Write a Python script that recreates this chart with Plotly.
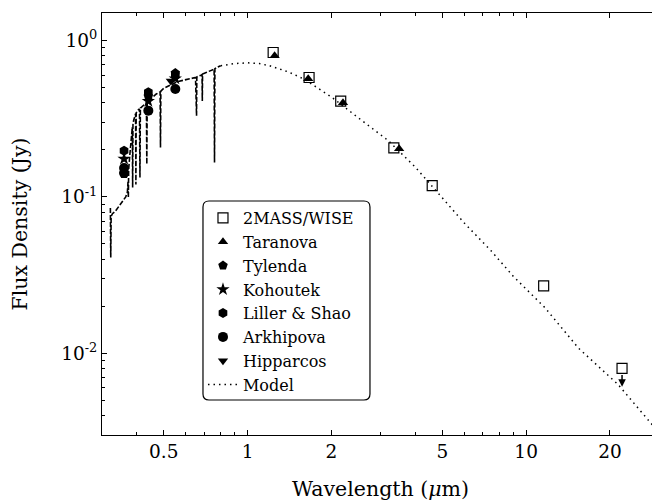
import math
import plotly.graph_objects as go

# ---------------- data ----------------
# optical spectrum (wavelength in micron, flux in Jy)
spec_wl = [0.3215, 0.3225, 0.3235, 0.327, 0.335, 0.345, 0.355, 0.365, 0.370, 0.372,
           0.373, 0.374, 0.378, 0.381, 0.384, 0.3855, 0.3865, 0.3875, 0.390, 0.394,
           0.396, 0.397, 0.398, 0.405, 0.409, 0.4105, 0.412, 0.416, 0.425, 0.433,
           0.4345, 0.436, 0.450, 0.470, 0.485, 0.4865, 0.488, 0.500, 0.520, 0.540,
           0.560, 0.590, 0.620, 0.650, 0.6555, 0.657, 0.680, 0.686, 0.6875, 0.689,
           0.710, 0.740, 0.758, 0.7605, 0.763, 0.780, 0.800]
spec_flux = [0.085, 0.041, 0.075, 0.078, 0.081, 0.087, 0.093, 0.100, 0.107, 0.125,
             0.099, 0.150, 0.190, 0.229, 0.270, 0.280, 0.115, 0.290, 0.310, 0.335,
             0.340, 0.120, 0.345, 0.360, 0.365, 0.133, 0.370, 0.375, 0.390, 0.400,
             0.162, 0.405, 0.425, 0.455, 0.470, 0.207, 0.475, 0.495, 0.510, 0.530,
             0.545, 0.558, 0.570, 0.580, 0.330, 0.585, 0.600, 0.605, 0.410, 0.610,
             0.625, 0.645, 0.655, 0.166, 0.660, 0.675, 0.690]

# model SED
model_wl = [0.80, 0.90, 1.00, 1.10, 1.20, 1.40, 1.60, 2.00, 2.50, 3.20, 4.00, 4.85,
            6.00, 7.50, 9.00, 11.7, 15.4, 21.4, 30.0]
model_flux = [0.690, 0.712, 0.720, 0.712, 0.690, 0.630, 0.565, 0.435, 0.320, 0.229,
              0.155, 0.104, 0.068, 0.045, 0.031, 0.0195, 0.0108, 0.0063, 0.0031]

# photometry
mass_wise_wl = [1.235, 1.662, 2.159, 3.35, 4.60, 11.56]
mass_wise_flux = [0.838, 0.580, 0.410, 0.206, 0.118, 0.027]

upper_limit_wl = [22.1]
upper_limit_flux = [0.0080]
upper_limit_arrow_end = [0.0061]

taranova_wl = [1.25, 1.65, 2.2, 3.5]
taranova_flux = [0.800, 0.570, 0.400, 0.203]

tylenda_wl = [0.36, 0.44, 0.55]
tylenda_flux = [0.140, 0.440, 0.620]

kohoutek_wl = [0.36, 0.44, 0.55]
kohoutek_flux = [0.175, 0.410, 0.570]

liller_wl = [0.36, 0.44, 0.55]
liller_flux = [0.197, 0.466, 0.600]

arkhipova_wl = [0.36, 0.36, 0.44, 0.55]
arkhipova_flux = [0.153, 0.142, 0.356, 0.490]

hipparcos_wl = [0.53]
hipparcos_flux = [0.55]

# axis ticks
x_tickvals = [0.5, 1, 2, 5, 10, 20]
x_ticktext = ["0.5", "1", "2", "5", "10", "20"]
x_minor = [0.3, 0.4, 0.6, 0.7, 0.8, 0.9, 3, 4, 6, 7, 8, 9, 30]
y_tickvals = [1, 0.1, 0.01]
y_ticktext = ["10<sup>0</sup>", "10<sup>-1</sup>", "10<sup>-2</sup>"]
y_minor = [0.003, 0.004, 0.005, 0.006, 0.007, 0.008, 0.009,
           0.02, 0.03, 0.04, 0.05, 0.06, 0.07, 0.08, 0.09,
           0.2, 0.3, 0.4, 0.5, 0.6, 0.7, 0.8, 0.9]

FONT = "DejaVu Serif"
TICK_SIZE = 18.5
TITLE_SIZE = 20.5
LEGEND_SIZE = 16

fig = go.Figure()

fig.add_trace(go.Scatter(x=spec_wl, y=spec_flux, mode="lines", showlegend=False,
                         line=dict(color="black", width=1.6, dash="5px,2px")))

fig.add_trace(go.Scatter(x=mass_wise_wl + upper_limit_wl, y=mass_wise_flux + upper_limit_flux,
                         mode="markers", name="2MASS/WISE",
                         marker=dict(symbol="square-open", size=10, color="black",
                                     line=dict(width=1.2, color="black"))))
fig.add_trace(go.Scatter(x=taranova_wl, y=taranova_flux, mode="markers", name="Taranova",
                         marker=dict(symbol="triangle-up", size=9, color="black")))
fig.add_trace(go.Scatter(x=tylenda_wl, y=tylenda_flux, mode="markers", name="Tylenda",
                         marker=dict(symbol="pentagon", size=10, color="black")))
fig.add_trace(go.Scatter(x=kohoutek_wl, y=kohoutek_flux, mode="markers", name="Kohoutek",
                         marker=dict(symbol="star", size=10, color="black")))
fig.add_trace(go.Scatter(x=liller_wl, y=liller_flux, mode="markers", name="Liller & Shao",
                         marker=dict(symbol="hexagon", size=10, color="black")))
fig.add_trace(go.Scatter(x=arkhipova_wl, y=arkhipova_flux, mode="markers", name="Arkhipova",
                         marker=dict(symbol="circle", size=10, color="black")))
fig.add_trace(go.Scatter(x=hipparcos_wl, y=hipparcos_flux, mode="markers", name="Hipparcos",
                         marker=dict(symbol="triangle-down", size=9, color="black")))
fig.add_trace(go.Scatter(x=model_wl, y=model_flux, mode="lines", name="Model",
                         line=dict(color="black", width=1.5, dash="1.5px,4px")))

fig.add_annotation(x=math.log10(upper_limit_wl[0]),
                   y=math.log10(upper_limit_arrow_end[0]),
                   ax=math.log10(upper_limit_wl[0]),
                   ay=math.log10(upper_limit_flux[0]),
                   xref="x", yref="y", axref="x", ayref="y", text="",
                   showarrow=True, arrowhead=2, arrowsize=1, arrowwidth=1.5,
                   arrowcolor="black", standoff=0, startstandoff=5)

axis_common = dict(showgrid=False, zeroline=False, showline=True, linecolor="black",
                   linewidth=1, mirror="ticks", ticks="inside", ticklen=5,
                   tickcolor="black", tickwidth=1, automargin=False,
                   tickfont=dict(family=FONT, size=TICK_SIZE, color="black"))

fig.update_xaxes(type="log", range=[-0.5229, 1.4771], tickvals=x_tickvals, ticktext=x_ticktext,
                 minor=dict(tickvals=x_minor, ticks="inside", ticklen=3, tickcolor="black"),
                 title=dict(text="Wavelength (<i>μ</i>m)",
                            font=dict(family=FONT, size=TITLE_SIZE, color="black"),
                            standoff=20),
                 **axis_common)
fig.update_yaxes(type="log", range=[-2.523, 0.176], tickvals=y_tickvals, ticktext=y_ticktext,
                 minor=dict(tickvals=y_minor, ticks="inside", ticklen=3, tickcolor="black"),
                 title=dict(text="Flux Density (Jy)",
                            font=dict(family=FONT, size=TITLE_SIZE, color="black"),
                            standoff=28),
                 **axis_common)

# rounded legend frame (paper coordinates of the plot area)
lx0, lx1, ly0, ly1 = 0.1813, 0.4811, 0.0829, 0.5545
rx, ry = 0.0108, 0.0142
legend_frame = (f"M {lx0+rx},{ly1} L {lx1-rx},{ly1} Q {lx1},{ly1} {lx1},{ly1-ry} "
                f"L {lx1},{ly0+ry} Q {lx1},{ly0} {lx1-rx},{ly0} "
                f"L {lx0+rx},{ly0} Q {lx0},{ly0} {lx0},{ly0+ry} "
                f"L {lx0},{ly1-ry} Q {lx0},{ly1} {lx0+rx},{ly1} Z")
fig.add_shape(type="path", path=legend_frame, xref="paper", yref="paper",
              line=dict(color="black", width=1.2), fillcolor="white", layer="above")

# page body has an 8px margin: figure is sized/offset to compensate
fig.update_layout(
    width=652, height=494,
    margin=dict(l=94, r=1, t=5, b=67),
    paper_bgcolor="white", plot_bgcolor="white",
    font=dict(family=FONT, color="black"),
    legend=dict(x=0.1813, y=0.5545, xanchor="left", yanchor="top",
                bgcolor="rgba(0,0,0,0)", borderwidth=0,
                font=dict(family=FONT, size=LEGEND_SIZE, color="black"),
                tracegroupgap=0),
)

fig.write_html("out.html")
